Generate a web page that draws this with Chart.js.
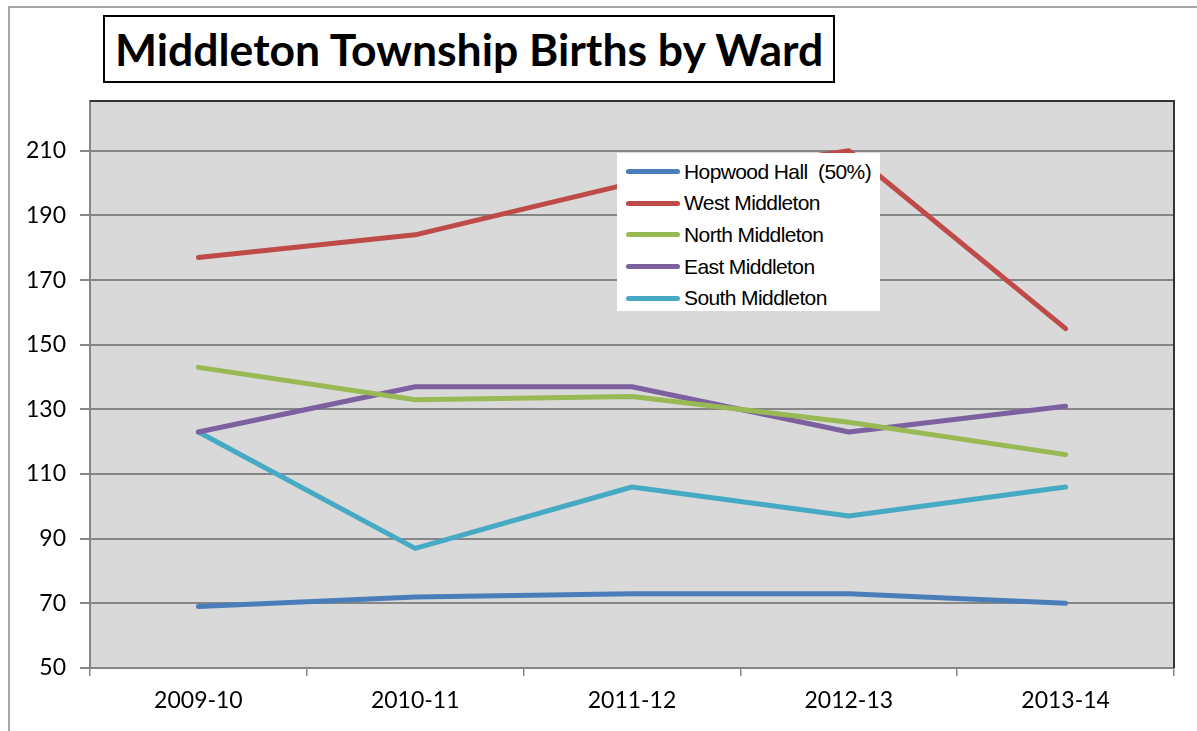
<!DOCTYPE html>
<html>
<head>
<meta charset="utf-8">
<script src="https://cdn.jsdelivr.net/npm/chart.js@4"></script>
<style>
  html, body { margin: 0; padding: 0; background: #fff; }
  #wrap { position: relative; width: 1197px; height: 731px; overflow: hidden; }
  #frame {
    position: absolute; left: 8px; top: 6px; width: 1300px; height: 800px;
    border-left: 2px solid #a6a6a6; border-top: 2px solid #a6a6a6;
  }
  #title {
    position: absolute; left: 103px; top: 15px; width: 732px; height: 68px;
    border: 2px solid #000; background: #fff; box-sizing: border-box;
    font: bold 44.5px Lato, "Open Sans", sans-serif; line-height: 64px;
    padding-left: 10px; color: #000; white-space: nowrap;
  }
  #legend {
    position: absolute; left: 617px; top: 153px; width: 263px; height: 158px;
    background: #fff; padding-top: 3px; box-sizing: border-box;
    font: 21px "Liberation Sans", Arial, sans-serif; color: #000;
    letter-spacing: -0.6px;
  }
  .row { display: flex; align-items: center; height: 31.6px; white-space: pre; }
  .sw { width: 54px; height: 5px; border-radius: 3px; margin: 0 4px 0 9px; }
  canvas { position: absolute; left: 0; top: 0; }
</style>
</head>
<body>
<div id="wrap">
  <div id="frame"></div>
  <canvas id="c" width="1197" height="731"></canvas>
  <div id="title">Middleton Township Births by Ward</div>
  <div id="legend"></div>
</div>
<script>
const YEARS = ['2009-10', '2010-11', '2011-12', '2012-13', '2013-14'];
const Y_TICKS = [50, 70, 90, 110, 130, 150, 170, 190, 210];

const HOPWOOD = [69, 72, 73, 73, 70];
const WEST    = [177, 184, 200, 210, 155];
const NORTH   = [143, 133, 134, 126, 116];
const EAST    = [123, 137, 137, 123, 131];
const SOUTH   = [123, 87, 106, 97, 106];

const SERIES = [
  { label: 'Hopwood Hall  (50%)', data: HOPWOOD, color: '#4a7ebb' },
  { label: 'West Middleton',      data: WEST,    color: '#be4b48' },
  { label: 'North Middleton',     data: NORTH,   color: '#98b954' },
  { label: 'East Middleton',      data: EAST,    color: '#7d60a0' },
  { label: 'South Middleton',     data: SOUTH,   color: '#46aac5' },
];

const GRID_COLOR = '#868686';
const LABEL_FONT = { family: 'Lato, "Open Sans", sans-serif', size: 23 };

// grey plot area + dark top/right edge
const plotBg = {
  id: 'plotBg',
  beforeDraw(ch) {
    const { ctx, chartArea: a } = ch;
    ctx.save();
    ctx.fillStyle = '#d9d9d9';
    ctx.fillRect(a.left, a.top, a.right - a.left, a.bottom - a.top);
    ctx.restore();
  },
  afterDatasetsDraw(ch) {
    const { ctx, chartArea: a } = ch;
    ctx.save();
    ctx.strokeStyle = '#333';
    ctx.lineWidth = 2;
    ctx.beginPath();
    ctx.moveTo(a.left, a.top);
    ctx.lineTo(a.right, a.top);
    ctx.lineTo(a.right, a.bottom);
    ctx.stroke();
    ctx.restore();
  },
};

new Chart(document.getElementById('c'), {
  type: 'line',
  data: {
    labels: YEARS,
    datasets: SERIES.map(s => ({
      label:           s.label,
      data:            s.data,
      borderColor:     s.color,
      backgroundColor: s.color,
      borderWidth:     5,
      pointRadius:     0,
      tension:         0,
      borderCapStyle:  'round',
      borderJoinStyle: 'round',
    })),
  },
  options: {
    responsive: false,
    animation:  false,
    layout: { padding: { left: 0, top: 101, right: 23, bottom: 0 } },
    plugins: { legend: { display: false }, tooltip: { enabled: false } },
    scales: {
      x: {
        offset: true,
        afterFit: s => { s.height = 63; },
        grid: {
          offset: true,
          drawOnChartArea: false,
          tickLength: 8,
          color: GRID_COLOR,
          lineWidth: 1.5,
        },
        border: { color: GRID_COLOR, width: 2 },
        ticks: { color: '#000', font: LABEL_FONT, padding: 11, maxRotation: 0 },
      },
      y: {
        min: 50,
        max: 225.4,
        afterFit: s => { s.width = 90; },
        afterBuildTicks: s => { s.ticks = Y_TICKS.map(v => ({ value: v })); },
        grid: { color: GRID_COLOR, lineWidth: 2, tickLength: 10 },
        border: { color: GRID_COLOR, width: 2 },
        ticks: { color: '#000', font: LABEL_FONT, padding: 14 },
      },
    },
  },
  plugins: [plotBg],
});

const legend = document.getElementById('legend');
SERIES.forEach(s => {
  const row = document.createElement('div');
  row.className = 'row';
  row.innerHTML = `<div class="sw" style="background:${s.color}"></div><span>${s.label}</span>`;
  legend.appendChild(row);
});
</script>
</body>
</html>
